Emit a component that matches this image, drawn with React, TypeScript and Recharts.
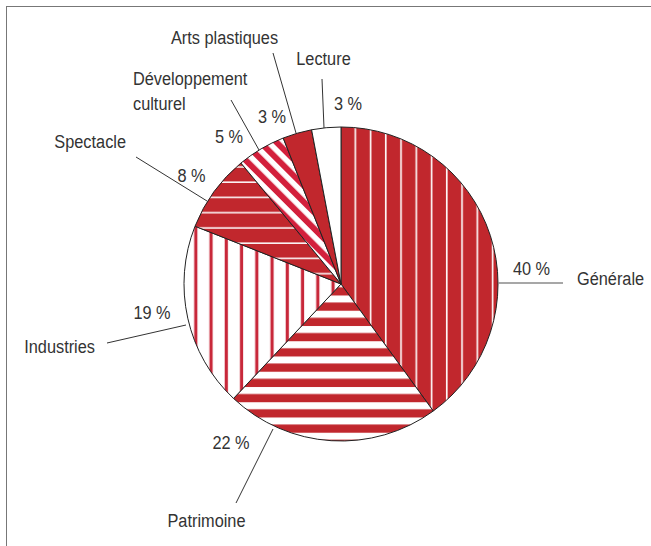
import React from "react";
import { PieChart, Pie, Cell } from "recharts";

const categories = ["Générale", "Patrimoine", "Industries", "Spectacle", "Développement culturel", "Arts plastiques", "Lecture"];
const shares = [40, 22, 19, 8, 5, 3, 3];
const fills = ["url(#pGen)", "url(#pPat)", "url(#pInd)", "url(#pSpec)", "url(#pDev)", "#c1272d", "#ffffff"];

const data = categories.map((name, i) => ({ name, value: shares[i] }));

// label layout, offsets relative to pie centre
type Lay = {
  line: [number, number, number, number];
  lineColor: string;
  lineWidth: number;
  name: [number, number];
  nameAnchor: "start" | "middle" | "end";
  pct: [number, number];
};
const LAYOUT: Lay[] = [
  { line: [157, -1, 222, -1], lineColor: "#8a8a8a", lineWidth: 1.6, name: [236, 1], nameAnchor: "start", pct: [190.5, -9] },
  { line: [-68, 145, -105, 219], lineColor: "#333", lineWidth: 1, name: [-134.5, 243], nameAnchor: "middle", pct: [-110, 165] },
  { line: [-234, 59, -155, 41], lineColor: "#333", lineWidth: 1, name: [-246, 69], nameAnchor: "end", pct: [-189, 35] },
  { line: [-205, -127, -134, -83], lineColor: "#333", lineWidth: 1, name: [-215, -136], nameAnchor: "end", pct: [-149.5, -102] },
  { line: [-110, -184, -82, -134], lineColor: "#333", lineWidth: 1, name: [-208, -199], nameAnchor: "start", pct: [-112, -141] },
  { line: [-68, -231, -45, -151], lineColor: "#333", lineWidth: 1, name: [-116.5, -240], nameAnchor: "middle", pct: [-69, -161] },
  { line: [-19, -205, -17, -156], lineColor: "#333", lineWidth: 1, name: [-17.5, -219], nameAnchor: "middle", pct: [7, -174] },
];

const FONT = "'Liberation Sans', Arial, sans-serif";
const TEXT = "#333";
const SX = 0.86;
const FS = 19;

const renderLabel = (props: any) => {
  const { cx, cy, index, name, value } = props;
  const l = LAYOUT[index];
  const words = index === 4 ? name.split(" ") : [name];
  return (
    <g key={`lab-${index}`}>
      <line x1={cx + l.line[0]} y1={cy + l.line[1]} x2={cx + l.line[2]} y2={cy + l.line[3]} stroke={l.lineColor} strokeWidth={l.lineWidth} />
      <text
        transform={`translate(${cx + l.name[0]} ${cy + l.name[1]}) scale(${SX} 1)`}
        x={0}
        y={0}
        textAnchor={l.nameAnchor}
        fill={TEXT}
        fontSize={FS}
        fontFamily={FONT}
      >
        {words.map((w: string, k: number) => (
          <tspan key={k} x={0} dy={k === 0 ? 0 : 25}>{w}</tspan>
        ))}
      </text>
      <text
        transform={`translate(${cx + l.pct[0]} ${cy + l.pct[1]}) scale(${SX} 1)`}
        x={0}
        y={0}
        textAnchor="middle"
        fill={TEXT}
        fontSize={FS}
        fontFamily={FONT}
      >
        {`${value} %`}
      </text>
    </g>
  );
};

export default function App() {
  return (
    <div style={{ position: "absolute", left: 0, top: 0, width: 651, height: 546, background: "#fff" }}>
      <div style={{ position: "absolute", left: 6, top: 6, right: 0, bottom: 0, borderTop: "1.5px solid #777", borderLeft: "1.5px solid #777" }} />
      <PieChart width={651} height={546} margin={{ top: 0, right: 0, bottom: 0, left: 0 }} style={{ position: "absolute", left: 0, top: 0 }}>
        <defs>
          <pattern id="pGen" patternUnits="userSpaceOnUse" width={15.25} height={15.25}>
            <rect width={15.25} height={15.25} fill="#c1272d" />
            <rect x={3.75} width={1.6} height={15.25} fill="#ffffff" />
          </pattern>
          <pattern id="pPat" patternUnits="userSpaceOnUse" width={15.25} height={15.25}>
            <rect width={15.25} height={15.25} fill="#c1272d" />
            <rect y={5.75} height={7} width={15.25} fill="#ffffff" />
          </pattern>
          <pattern id="pInd" patternUnits="userSpaceOnUse" width={15.25} height={15.25}>
            <rect width={15.25} height={15.25} fill="#ffffff" />
            <rect x={11.2} width={3.2} height={15.25} fill="#c8283a" />
          </pattern>
          <pattern id="pSpec" patternUnits="userSpaceOnUse" width={15.25} height={15.25}>
            <rect width={15.25} height={15.25} fill="#c1272d" />
            <rect y={13.7} height={1.5} width={15.25} fill="#ffffff" />
          </pattern>
          <pattern id="pDev" patternUnits="userSpaceOnUse" width={11.5} height={11.5} patternTransform="rotate(-45)">
            <rect width={11.5} height={11.5} fill="#ffffff" />
            <rect width={6} height={11.5} fill="#d3203c" />
          </pattern>
        </defs>
        <Pie
          data={data}
          dataKey="value"
          nameKey="name"
          cx={341}
          cy={284}
          outerRadius={157}
          innerRadius={0}
          startAngle={90}
          endAngle={-270}
          stroke="#222"
          strokeWidth={1}
          label={renderLabel}
          labelLine={false}
          isAnimationActive={false}
        >
          {data.map((d, i) => (
            <Cell key={d.name} fill={fills[i]} />
          ))}
        </Pie>
      </PieChart>
    </div>
  );
}
